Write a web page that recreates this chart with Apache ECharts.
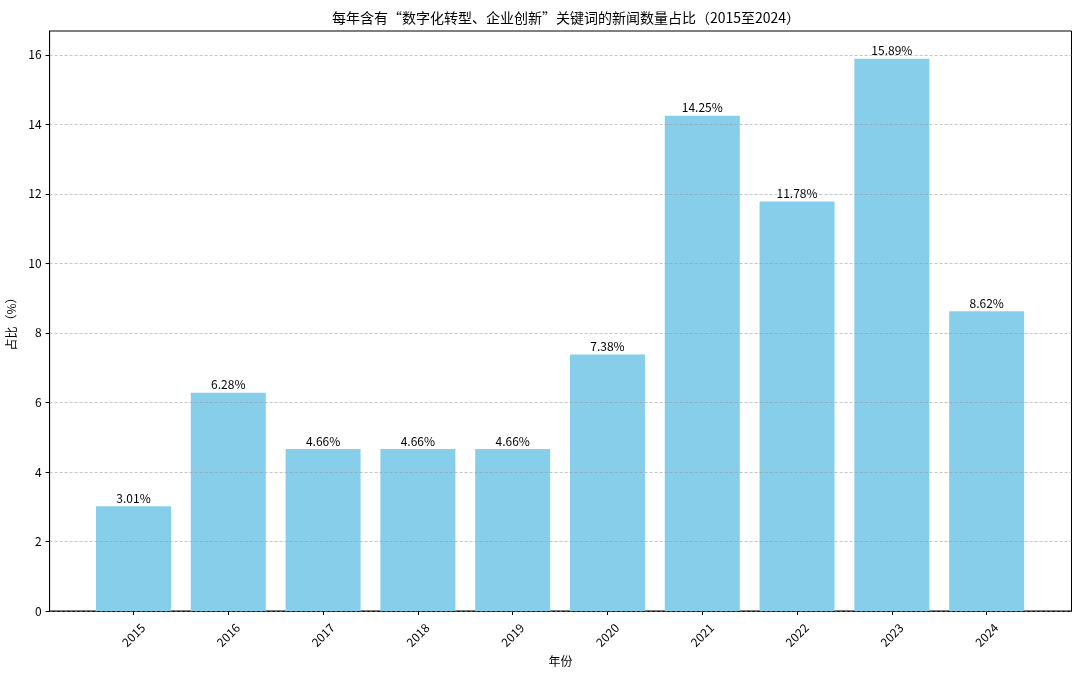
<!DOCTYPE html>
<html>
<head>
<meta charset="utf-8">
<script src="https://cdn.jsdelivr.net/npm/echarts@6/dist/echarts.min.js"></script>
<style>
html,body{margin:0;padding:0;background:#fff;}
#chart{width:1080px;height:674px;}
</style>
</head>
<body>
<div id="chart"></div>
<script>
const years = ['2015','2016','2017','2018','2019','2020','2021','2022','2023','2024'];
const shares = [3.01, 6.28, 4.66, 4.66, 4.66, 7.38, 14.25, 11.78, 15.89, 8.62];
const yTicks = [0, 2, 4, 6, 8, 10, 12, 14, 16];

const FONT = '"Noto Sans CJK SC", "DejaVu Sans", sans-serif';
const xIdx = years.map((_, i) => i);
const seriesData = shares.map((v, i) => [i, v]);

const chart = echarts.init(document.getElementById('chart'));
chart.setOption({
  animation: false,
  backgroundColor: '#fff',
  title: {
    text: '每年含有“数字化转型、企业创新”关键词的新闻数量占比（2015至2024）',
    left: 561, textAlign: 'center', top: 6,
    textStyle: { fontFamily: FONT, fontSize: 14, fontWeight: 'normal', color: '#000' }
  },
  grid: {
    left: 49.6, right: 8.5, top: 31, bottom: 63,
    containLabel: false, outerBoundsMode: 'none',
    show: true, borderColor: '#000', borderWidth: 1, backgroundColor: 'transparent'
  },
  xAxis: {
    type: 'value', min: -0.885, max: 9.895,
    name: '年份', nameLocation: 'middle', nameGap: 40,
    nameTextStyle: { fontFamily: FONT, fontSize: 12, color: '#000' },
    axisLine: { show: true, onZero: false, lineStyle: { color: '#000', width: 1 } },
    axisTick: { show: true, customValues: xIdx, length: 4, lineStyle: { color: '#000' } },
    axisLabel: {
      customValues: xIdx,
      formatter: v => years[Math.round(v)] || '',
      rotate: 45, align: 'center', verticalAlign: 'middle', margin: 24,
      fontFamily: FONT, fontSize: 12, color: '#000'
    },
    splitLine: { show: false }
  },
  yAxis: {
    type: 'value', min: 0, max: 16.685, z: 5,
    name: '占比（%）', nameLocation: 'middle', nameGap: 27, nameRotate: 90,
    nameTextStyle: { fontFamily: FONT, fontSize: 12, color: '#000' },
    axisLine: { show: true, onZero: false, lineStyle: { color: '#000', width: 1 } },
    axisTick: { show: true, customValues: yTicks, length: 4, lineStyle: { color: '#000' } },
    axisLabel: { customValues: yTicks, fontFamily: FONT, fontSize: 12, color: '#000', margin: 8 },
    splitLine: { show: true, lineStyle: { color: 'rgba(150,150,150,0.7)', type: [3, 2], width: 0.8 } }
  },
  series: [{
    type: 'bar',
    data: seriesData,
    barWidth: 75,
    z: 2,
    itemStyle: { color: '#87CEEB' },
    label: {
      show: true, position: 'top', distance: 2,
      formatter: p => shares[p.dataIndex].toFixed(2) + '%',
      fontFamily: FONT, fontSize: 12, color: '#000'
    }
  }]
});
</script>
</body>
</html>
